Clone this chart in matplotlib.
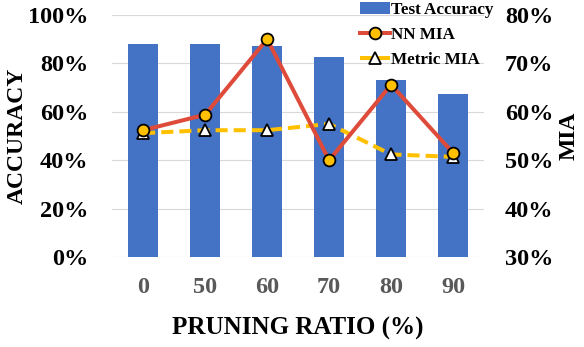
import numpy as np
import matplotlib
matplotlib.use('Agg')
import matplotlib.pyplot as plt
from matplotlib.ticker import PercentFormatter

plt.rcParams['font.family'] = ['Liberation Serif', 'DejaVu Serif']
plt.rcParams['font.weight'] = 'bold'

# data
ratios = ['0', '50', '60', '70', '80', '90']
test_acc = [88, 88, 87.2, 82.8, 73, 67.5]
nn_mia = [56.2, 59.4, 75, 50, 65.6, 51.5]
metric_mia = [55.6, 56.2, 56.2, 57.5, 51.2, 50.7]

fig = plt.figure(figsize=(5.84, 3.47), dpi=100)
ax = fig.add_axes([0.192, 0.259, 0.637, 0.698])
x = np.arange(len(ratios))

ax.bar(x, test_acc, width=0.48, color='#4472C4', label='Test Accuracy', zorder=2)
ax.set_ylim(0, 100)
ax.set_xlim(-0.5, len(ratios) - 0.5)
ax.set_yticks(np.arange(0, 101, 20))
ax.yaxis.set_major_formatter(PercentFormatter(decimals=0))
ax.grid(axis='y', color='#d9d9d9', lw=0.8, zorder=0)
ax.set_xticks(x)
ax.set_xticklabels(ratios, color='#595959')
ax.tick_params(axis='both', length=0, labelsize=17.5)
ax.tick_params(axis='y', colors='black', pad=17)
ax.tick_params(axis='x', pad=14)
for s in ax.spines.values():
    s.set_visible(False)
ax.set_ylabel('ACCURACY', fontsize=17, fontweight='bold', labelpad=0)
ax.set_xlabel('PRUNING RATIO (%)', fontsize=18, fontweight='bold', labelpad=14)

ax2 = ax.twinx()
ax2.set_ylim(30, 80)
ax2.set_yticks(np.arange(30, 81, 10))
ax2.yaxis.set_major_formatter(PercentFormatter(decimals=0))
ax2.tick_params(axis='y', length=0, labelsize=17.5, pad=15)
for s in ax2.spines.values():
    s.set_visible(False)
ax2.set_ylabel('MIA', fontsize=17, fontweight='bold', labelpad=4)

ax2.plot(x, nn_mia, color='#DE4B3A', lw=2.9, marker='o', markersize=8.5,
         markerfacecolor='#FFC000', markeredgecolor='black', markeredgewidth=1.3,
         label='NN MIA', zorder=4)
ax2.plot(x, metric_mia, color='#FFC000', lw=2.9, ls=(0, (3, 1.5)), marker='^',
         markersize=8.5, markerfacecolor='white', markeredgecolor='black',
         markeredgewidth=1.3, label='Metric MIA', zorder=3)

h1, l1 = ax.get_legend_handles_labels()
h2, l2 = ax2.get_legend_handles_labels()
fig.legend(h1 + h2, l1 + l2, loc='upper right', bbox_to_anchor=(0.866, 1.03),
           frameon=False, fontsize=12.3, handlelength=1.75, handletextpad=0.1,
           labelspacing=0.55, borderpad=0.2)

fig.savefig('out.png', dpi=100)
